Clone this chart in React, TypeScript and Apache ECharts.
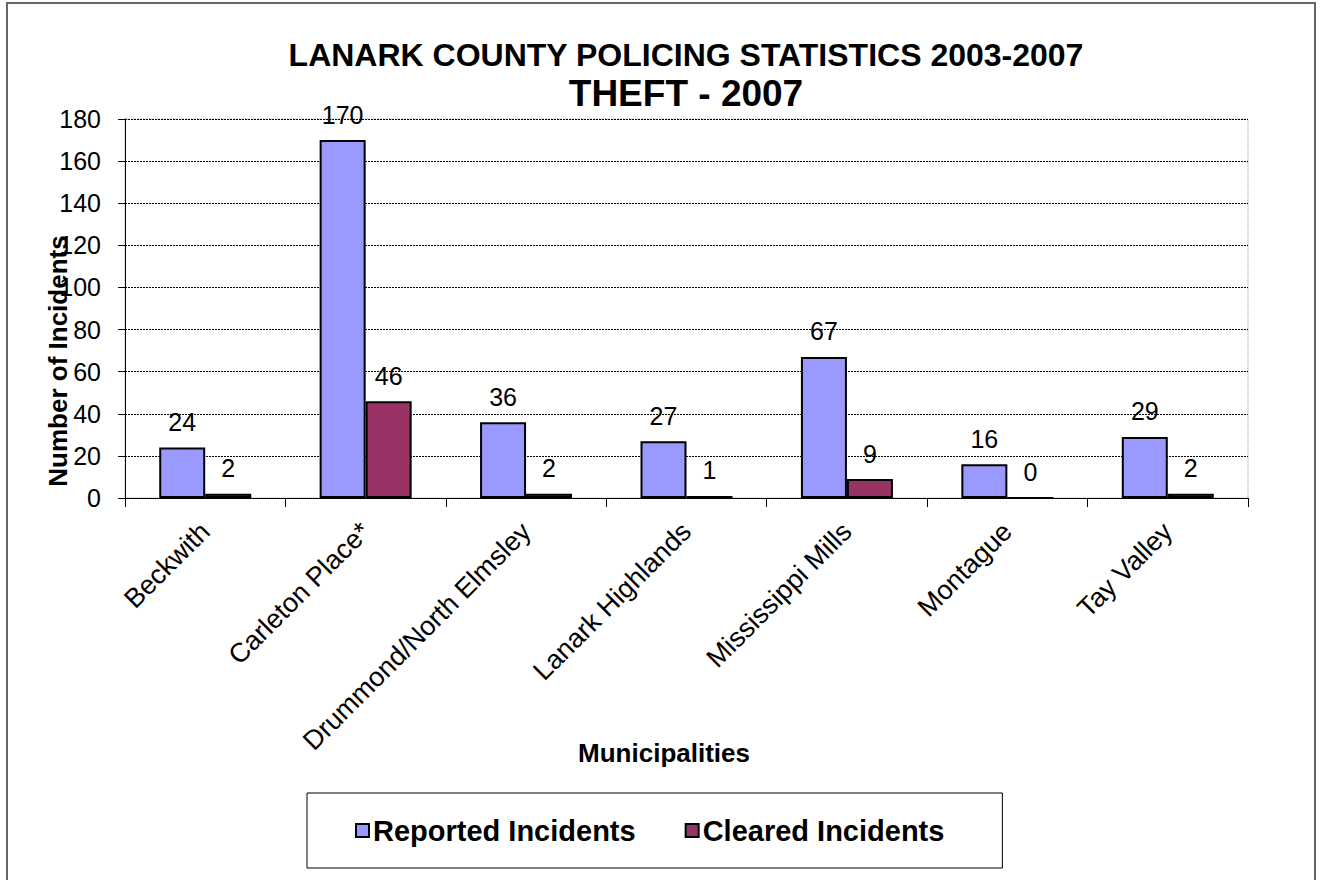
import React, { useEffect, useRef } from "react";
import * as echarts from "echarts";

const categories = [
  "Beckwith",
  "Carleton Place*",
  "Drummond/North Elmsley",
  "Lanark Highlands",
  "Mississippi Mills",
  "Montague",
  "Tay Valley",
];
const reported = [24, 170, 36, 27, 67, 16, 29];
const cleared = [2, 46, 2, 1, 9, 0, 2];
const titleLine1 = "LANARK COUNTY POLICING STATISTICS 2003-2007";
const titleLine2 = "THEFT - 2007";
const yAxisTitle = "Number of Incidents";
const xAxisTitle = "Municipalities";
const seriesNames = ["Reported Incidents", "Cleared Incidents"];

const FONT = "'Liberation Sans', Arial, sans-serif";

export default function App() {
  const ref = useRef<HTMLDivElement>(null);
  useEffect(() => {
    if (!ref.current) return;
    const chart = echarts.init(ref.current, undefined, { renderer: "svg" });
    const labelStyle = {
      show: true,
      position: "top" as const,
      distance: 13,
      fontFamily: FONT,
      fontSize: 25,
      color: "#000",
    };
    chart.setOption({
      animation: false,
      backgroundColor: "#fff",
      textStyle: { fontFamily: FONT },
      grid: {
        left: 125,
        right: 74,
        top: 119,
        bottom: 382,
        show: true,
        borderColor: "#999",
        borderWidth: 1,
        borderType: "dotted",
      },
      legend: {
        left: 307,
        top: 793,
        padding: [23, 58, 23, 48],
        itemGap: 49,
        itemWidth: 13,
        itemHeight: 13,
        icon: "rect",
        borderColor: "#000",
        borderWidth: 1,
        backgroundColor: "#fff",
        textStyle: {
          fontFamily: FONT,
          fontSize: 29,
          fontWeight: "bold",
          color: "#000",
          padding: [0, 0, 0, -1],
        },
        data: seriesNames,
      },
      xAxis: {
        type: "category",
        data: categories,
        boundaryGap: true,
        axisLine: { lineStyle: { color: "#000", width: 1 } },
        axisTick: { show: true, length: 9, interval: 0, lineStyle: { color: "#000" } },
        axisLabel: {
          interval: 0,
          rotate: 45,
          margin: 29,
          fontFamily: FONT,
          fontSize: 27,
          color: "#000",
        },
      },
      yAxis: {
        type: "value",
        min: 0,
        max: 180,
        interval: 20,
        axisLine: { show: true, lineStyle: { color: "#000", width: 1 } },
        axisTick: { show: true, length: 7, lineStyle: { color: "#000" } },
        axisLabel: {
          margin: 24,
          fontFamily: FONT,
          fontSize: 25,
          color: "#000",
        },
        splitLine: {
          show: true,
          lineStyle: { color: "#000", width: 1, type: [2, 1] },
        },
      },
      series: [
        {
          name: seriesNames[0],
          type: "bar",
          data: reported,
          barWidth: 46,
          barGap: "0%",
          itemStyle: { color: "#9999FF", borderColor: "#000", borderWidth: 2 },
          label: labelStyle,
        },
        {
          name: seriesNames[1],
          type: "bar",
          data: cleared,
          barWidth: 46,
          barGap: "0%",
          itemStyle: { color: "#993366", borderColor: "#000", borderWidth: 2 },
          label: labelStyle,
        },
      ],
      graphic: [
        {
          type: "rect",
          shape: { x: 7, y: 3, width: 1308, height: 900 },
          style: { fill: "none", stroke: "#666", lineWidth: 2 },
          silent: true,
          z: 100,
        },
        {
          type: "text",
          x: 686,
          y: 55,
          style: {
            text: titleLine1,
            fontFamily: FONT,
            fontSize: 32,
            fontWeight: "bold",
            fill: "#000",
            align: "center",
            verticalAlign: "middle",
          },
        },
        {
          type: "text",
          x: 686,
          y: 93,
          style: {
            text: titleLine2,
            fontFamily: FONT,
            fontSize: 37,
            fontWeight: "bold",
            fill: "#000",
            align: "center",
            verticalAlign: "middle",
          },
        },
        {
          type: "text",
          x: 58,
          y: 361,
          rotation: Math.PI / 2,
          style: {
            text: yAxisTitle,
            fontFamily: FONT,
            fontSize: 26,
            fontWeight: "bold",
            fill: "#000",
            align: "center",
            verticalAlign: "middle",
          },
          z: 10,
        },
        {
          type: "text",
          x: 664,
          y: 753,
          style: {
            text: xAxisTitle,
            fontFamily: FONT,
            fontSize: 26,
            fontWeight: "bold",
            fill: "#000",
            align: "center",
            verticalAlign: "middle",
          },
        },
      ],
    });
    return () => chart.dispose();
  }, []);
  return (
    <div
      ref={ref}
      style={{ position: "absolute", left: 0, top: 0, width: 1322, height: 880 }}
    />
  );
}
